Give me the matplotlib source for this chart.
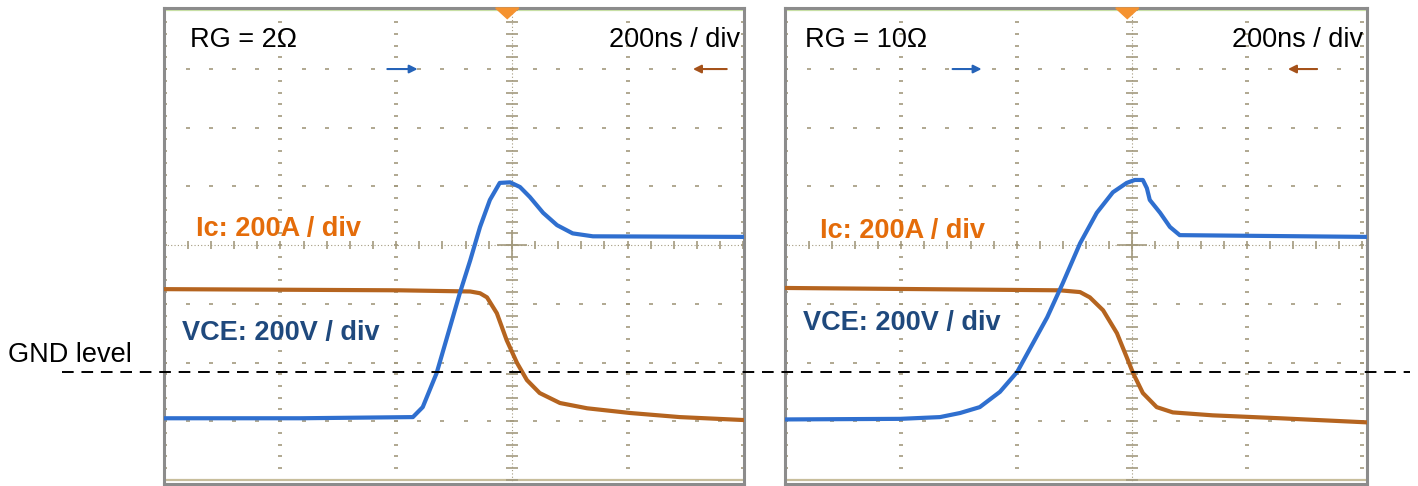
import numpy as np
import matplotlib.pyplot as plt
import matplotlib.transforms as mtransforms
from matplotlib.patches import Polygon

plt.rcParams['font.family'] = ['Liberation Sans', 'DejaVu Sans']

# scope captures, time in ns (200 ns / div), amplitude in screen divisions
gate_labels = ["RG = 2\u03a9", "RG = 10\u03a9"]
timebase_label = "200ns / div"
ic_label = "Ic: 200A / div"
vce_label = "VCE: 200V / div"
gnd_label = "GND level"
gnd_div = -2.16

t_vce_2 = [-600, -366, -171, -154, -130, -107, -90, -72, -55, -38, -21, -3,
           14, 31, 54, 78, 105, 140, 400]
vce_2 = [-2.95, -2.95, -2.93, -2.76, -2.18, -1.40, -0.82, -0.26, 0.31, 0.77,
         1.06, 1.07, 0.99, 0.82, 0.55, 0.34, 0.20, 0.15, 0.14]
t_ic_2 = [-600, -194, -72, -55, -43, -26, -9, 9, 26, 48, 83, 130, 204, 290, 400]
ic_2 = [-0.75, -0.77, -0.79, -0.82, -0.89, -1.16, -1.62, -2.01, -2.30, -2.52,
        -2.69, -2.78, -2.86, -2.93, -2.98]

t_vce_10 = [-602, -402, -333, -298, -264, -229, -199, -147, -120, -90, -61,
            -33, -9, 5, 19, 26, 31, 49, 66, 83, 408]
vce_10 = [-2.97, -2.96, -2.93, -2.86, -2.76, -2.50, -2.16, -1.23, -0.65, 0.03,
          0.55, 0.90, 1.06, 1.11, 1.11, 0.97, 0.77, 0.55, 0.31, 0.17, 0.14]
t_ic_10 = [-602, -125, -90, -73, -50, -26, -9, 2, 19, 43, 71, 140, 257, 408]
ic_10 = [-0.73, -0.77, -0.80, -0.89, -1.11, -1.50, -1.91, -2.18, -2.52, -2.76,
         -2.85, -2.90, -2.95, -3.02]

panels = [
    dict(pos=[164 / 1418, 2 / 486, 580 / 1418, 476 / 486], xlim=(-601, 401),
         t_vce=t_vce_2, vce=vce_2, t_ic=t_ic_2, ic=ic_2, label=gate_labels[0],
         arrows=((-220, -158), (376, 308)), ic_xy=(0.055, 0.536), vce_xy=(0.031, 0.317)),
    dict(pos=[785 / 1418, 2 / 486, 582 / 1418, 476 / 486], xlim=(-602, 408),
         t_vce=t_vce_10, vce=vce_10, t_ic=t_ic_10, ic=ic_10, label=gate_labels[1],
         arrows=((-316, -256), (326, 266)), ic_xy=(0.060, 0.532), vce_xy=(0.031, 0.338)),
]

blue = '#2F6FCF'
brown = '#B5641F'
grid_c = '#A39A7E'

fig = plt.figure(figsize=(14.18, 4.86), dpi=100)

for p in panels:
    ax = fig.add_axes(p['pos'])
    ax.set_xlim(*p['xlim'])
    ax.set_ylim(-4.07, 4.04)
    ax.set_xticks([])
    ax.set_yticks([])
    for s in ax.spines.values():
        s.set_color('#8C8C8C')
        s.set_linewidth(2.2)

    # graticule: dots along major lines
    minor_t = np.arange(-600, 401, 40)
    minor_v = np.arange(-4, 4.01, 0.2)
    for mt in range(-600, 401, 200):
        if mt == 0:
            continue
        ax.plot(np.full_like(minor_v, mt), minor_v, ls='none', marker='_',
                ms=3.5, mew=1.2, color=grid_c, zorder=1)
    for mv in range(-4, 5):
        if mv in (0,):
            continue
        ax.plot(minor_t, np.full_like(minor_t, mv, dtype=float), ls='none',
                marker='_', ms=3.5, mew=1.2, color=grid_c, zorder=1)
    ax.axhline(4, color='#C9E2A6', lw=1.6, zorder=1)
    ax.axhline(-4, color='#C8BE9C', lw=1.6, zorder=1)

    # centre axes with fine ticks
    ax.axhline(0, color=grid_c, lw=0.8, ls=(0, (1, 2)), zorder=1)
    ax.axvline(0, color=grid_c, lw=0.8, ls=(0, (1, 2)), zorder=1)
    ax.plot(minor_t, np.zeros_like(minor_t, dtype=float), ls='none', marker='|',
            ms=6, mew=1.2, color=grid_c, zorder=1)
    ax.plot(np.zeros_like(minor_v), minor_v, ls='none', marker='_',
            ms=9, mew=1.2, color=grid_c, zorder=1)
    ax.plot([0], [0], marker='+', ms=22, mew=1.2, color=grid_c, zorder=1)

    ax.plot(p['t_ic'], p['ic'], color=brown, lw=3.0, zorder=3)
    ax.plot(p['t_vce'], p['vce'], color=blue, lw=3.0, zorder=4)

    # channel position arrows and trigger marker
    (b0, b1), (o0, o1) = p['arrows']
    ax.annotate('', xy=(b1, 3.0), xytext=(b0, 3.0),
                arrowprops=dict(arrowstyle='-|>', color='#2563B8', lw=1.5,
                                mutation_scale=12))
    ax.annotate('', xy=(o1, 3.0), xytext=(o0, 3.0),
                arrowprops=dict(arrowstyle='-|>', color='#A5521A', lw=1.5,
                                mutation_scale=12))
    ax.add_patch(Polygon([[-28, 4.04], [12, 4.04], [-8, 3.86]], closed=True,
                         color='#F5922F', zorder=5, clip_on=False))

    ax.text(0.045 if p is panels[0] else 0.034, 0.933, p['label'], transform=ax.transAxes,
            fontsize=19.5, ha='left', va='center', color='black')
    ax.text(0.993, 0.933, timebase_label, transform=ax.transAxes,
            fontsize=19.5, ha='right', va='center', color='black')
    ax.text(*p['ic_xy'], ic_label, transform=ax.transAxes, fontsize=19.5,
            fontweight='bold', ha='left', va='center', color='#E46C0A')
    ax.text(*p['vce_xy'], vce_label, transform=ax.transAxes, fontsize=19.5,
            fontweight='bold', ha='left', va='center', color='#1F497D')

    if p is panels[0]:
        ax_ref = ax

# GND reference across both captures
trans = mtransforms.blended_transform_factory(fig.transFigure, ax_ref.transData)
fig.add_artist(plt.Line2D([62 / 1418, 1410 / 1418], [gnd_div, gnd_div],
                          transform=trans, color='black', lw=1.4,
                          ls=(0, (6, 4)), zorder=10))
fig.text(8 / 1418, ax_ref.transData.transform((0, gnd_div))[1] / 486 + 17 / 486,
         gnd_label, fontsize=19.5, ha='left', va='center')

fig.savefig('out.png', dpi=100)
